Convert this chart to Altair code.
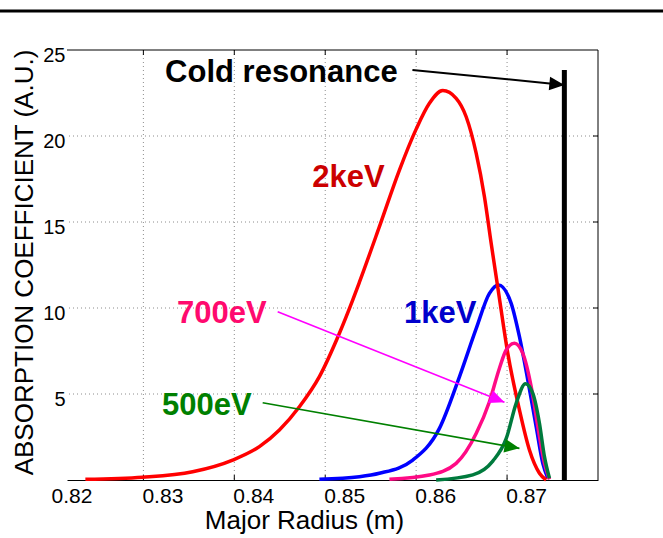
import math
import altair as alt
import pandas as pd

# ---------------- data ----------------
# 2 keV curve (red)
x_2kev = [0.82362, 0.82992, 0.83542, 0.83982, 0.84276, 0.84496, 0.84716, 0.84936,
          0.85156, 0.85303, 0.85376, 0.85596, 0.85816, 0.86000, 0.86146, 0.86293,
          0.86440, 0.86550, 0.86660, 0.86751, 0.86825, 0.86909, 0.87008, 0.87136,
          0.87246, 0.87356, 0.87430]
y_2kev = [0.04, 0.16, 0.48, 1.16, 1.94, 2.91, 4.26, 6.01,
          8.53, 10.47, 11.5, 14.73, 18.02, 20.4, 21.9, 22.64,
          22.19, 21.12, 19.0, 16.47, 13.76, 10.8, 7.36, 4.07,
          1.74, 0.39, 0.0]
# 1 keV curve (blue)
x_1kev = [0.84936, 0.85376, 0.85596, 0.85963, 0.86256, 0.86476, 0.86660, 0.86806,
          0.86905, 0.87045, 0.87136, 0.87228, 0.87320, 0.87393, 0.87448]
y_1kev = [0.04, 0.19, 0.39, 1.16, 3.0, 6.0, 8.8, 10.85,
          11.34, 10.27, 8.33, 5.81, 3.1, 0.97, 0.1]
# 700 eV curve (pink)
x_700 = [0.85706, 0.86146, 0.86440, 0.86660, 0.86806, 0.86916, 0.86990, 0.87081,
         0.87173, 0.87265, 0.87338, 0.87411, 0.87466]
y_700 = [0.04, 0.29, 0.97, 2.7, 4.55, 6.5, 7.56, 7.95,
         7.36, 5.43, 3.1, 0.97, 0.04]
# 500 eV curve (green)
x_500 = [0.86220, 0.86623, 0.86843, 0.86990, 0.87100, 0.87202, 0.87283, 0.87356,
         0.87411, 0.87466]
y_500 = [0.0, 0.3, 1.1, 2.4, 4.46, 5.6, 5.04, 3.3, 1.36, 0.1]

series_names = ["1keV", "2keV", "700eV", "500eV"]
series_colors = ["#0000ff", "#ff0000", "#ff0a85", "#007a3d"]
series_x = [x_1kev, x_2kev, x_700, x_500]
series_y = [y_1kev, y_2kev, y_700, y_500]

# axis ticks
x_ticks = [0.82, 0.83, 0.84, 0.85, 0.86, 0.87]
x_grid = [0.83, 0.84, 0.85, 0.86, 0.87]
y_ticks = [5, 10, 15, 20, 25]
y_grid = [5, 10, 15, 20]

# cold resonance
cold_x = [0.8763]
cold_y0 = [0.0]
cold_y1 = [23.84]

# labels
label_text = ["Cold resonance", "2keV", "700eV", "1keV", "500eV"]
label_x = [0.84518, 0.85255, 0.83864, 0.86265, 0.83699]
label_y = [23.14, 17.03, 9.11, 9.11, 3.78]
label_color = ["#000000", "#cc0000", "#ff0a6e", "#0000cc", "#008000"]

# arrows
arrow_x0 = [0.85959, 0.84477, 0.84312]
arrow_y0 = [23.84, 9.785, 4.49]
arrow_x1 = [0.87630, 0.86971, 0.87136]
arrow_y1 = [22.97, 4.52, 1.84]
arrow_color = ["#000000", "#ff00ff", "#008000"]
arrow_width = [2.0, 1.6, 1.6]

# ---------------- layout ----------------
W, H = 531, 430
X_DOM = [0.8216, 0.88]
Y_DOM = [0, 25]
FONT = "Liberation Sans"
LABEL_SHIFT_PX = 19

xs = alt.Scale(domain=X_DOM, nice=False, zero=False)
ys = alt.Scale(domain=Y_DOM, nice=False, zero=False)

px_per_x = W / (X_DOM[1] - X_DOM[0])
px_per_y = H / (Y_DOM[1] - Y_DOM[0])
shift = LABEL_SHIFT_PX / px_per_x
label_positions = [v + shift for v in x_ticks]

one = pd.DataFrame({"k": [0]})

x_axis = alt.Axis(values=label_positions,
                  labelExpr=f"format(datum.value - {shift:.8f}, '.2f')",
                  ticks=False, grid=False,
                  domain=True, domainColor="black", domainWidth=1,
                  labelFontSize=21, labelFont=FONT, labelColor="black", labelPadding=5,
                  labelFlush=False, labelOverlap=False, labelBound=False,
                  title="Major Radius (m)", titleFontSize=26, titleFont=FONT,
                  titleFontWeight="normal", titleColor="black",
                  titleX=237, titleY=40, titleBaseline="middle", titleAlign="center")
y_axis = alt.Axis(values=y_ticks, ticks=False, grid=False, domain=False,
                  labelFontSize=20, labelFont=FONT, labelColor="black", labelPadding=2,
                  labelOffset=5, labelFlush=False, labelOverlap=False,
                  title="ABSORPTION COEFFICIENT (A.U.)", titleFontSize=26, titleFont=FONT,
                  titleFontWeight="normal", titleColor="black",
                  titleX=-43, titleY=212, titleAngle=270, titleBaseline="middle",
                  titleAlign="center")

layers = []

# grid
gx = pd.DataFrame({"r": x_grid})
gy = pd.DataFrame({"a": y_grid})
layers.append(alt.Chart(gx).mark_rule(color="#8c8c8c", strokeWidth=1, strokeDash=[1, 3]).encode(
    x=alt.X("r:Q", scale=xs, axis=x_axis)))
layers.append(alt.Chart(gy).mark_rule(color="#8c8c8c", strokeWidth=1, strokeDash=[1, 3]).encode(
    y=alt.Y("a:Q", scale=ys, axis=y_axis)))

# inward ticks
layers.append(alt.Chart(gx).mark_rule(color="black", strokeWidth=1).encode(
    x=alt.X("r:Q", scale=xs), y=alt.value(H), y2=alt.value(H - 5)))
layers.append(alt.Chart(gx).mark_rule(color="black", strokeWidth=1).encode(
    x=alt.X("r:Q", scale=xs), y=alt.value(0), y2=alt.value(5)))
layers.append(alt.Chart(gy).mark_rule(color="black", strokeWidth=1).encode(
    y=alt.Y("a:Q", scale=ys), x=alt.value(W), x2=alt.value(W - 5)))

# frame: top and right
layers.append(alt.Chart(one).mark_rule(color="black", strokeWidth=1).encode(
    x=alt.value(0), x2=alt.value(W), y=alt.value(0)))
layers.append(alt.Chart(one).mark_rule(color="black", strokeWidth=1).encode(
    x=alt.value(W), y=alt.value(0), y2=alt.value(H)))
# page rule at the very top
layers.append(alt.Chart(one).mark_rule(color="black", strokeWidth=3).encode(
    x=alt.value(-67), x2=alt.value(W + 65), y=alt.value(-39)))

# curves
for name, col, xv, yv in zip(series_names, series_colors, series_x, series_y):
    df = pd.DataFrame({"r": xv, "a": yv})
    layers.append(alt.Chart(df).mark_line(color=col, strokeWidth=3.5, interpolate="monotone").encode(
        x=alt.X("r:Q", scale=xs), y=alt.Y("a:Q", scale=ys)))

# cold resonance bar
cdf = pd.DataFrame({"r": cold_x, "a0": cold_y0, "a1": cold_y1})
layers.append(alt.Chart(cdf).mark_rule(color="black", strokeWidth=5).encode(
    x=alt.X("r:Q", scale=xs), y=alt.Y("a0:Q", scale=ys), y2="a1:Q"))

# arrows
angles = [math.degrees(math.atan2(-(b1 - b0) * px_per_y, (a1 - a0) * px_per_x))
          for a0, b0, a1, b1 in zip(arrow_x0, arrow_y0, arrow_x1, arrow_y1)]
adf = pd.DataFrame({"x0": arrow_x0, "y0": arrow_y0, "x1": arrow_x1, "y1": arrow_y1,
                    "c": arrow_color, "w": arrow_width, "ang": angles})
layers.append(alt.Chart(adf).mark_rule().encode(
    x=alt.X("x0:Q", scale=xs), y=alt.Y("y0:Q", scale=ys), x2="x1:Q", y2="y1:Q",
    color=alt.Color("c:N", scale=None), strokeWidth=alt.StrokeWidth("w:Q", scale=None)))
layers.append(alt.Chart(adf).mark_point(
    shape="M0,0 L-2,-0.9 L-2,0.9 Z", filled=True, size=225, opacity=1).encode(
    x=alt.X("x1:Q", scale=xs), y=alt.Y("y1:Q", scale=ys),
    angle=alt.Angle("ang:Q", scale=None),
    color=alt.Color("c:N", scale=None)))

# labels
ldf = pd.DataFrame({"t": label_text, "r": label_x, "a": label_y, "c": label_color})
layers.append(alt.Chart(ldf).mark_text(font=FONT, fontWeight="bold", fontSize=31,
                                       align="center", baseline="alphabetic").encode(
    x=alt.X("r:Q", scale=xs), y=alt.Y("a:Q", scale=ys), text="t:N",
    color=alt.Color("c:N", scale=None)))

chart = alt.layer(*layers).properties(
    width=W, height=H,
    padding={"left": 67, "top": 50, "right": 65, "bottom": 58},
    autosize=alt.AutoSizeParams(type="none"),
    background="white",
).configure_view(stroke=None)

chart.save("out.html", embed_options={"renderer": "svg", "actions": False})
